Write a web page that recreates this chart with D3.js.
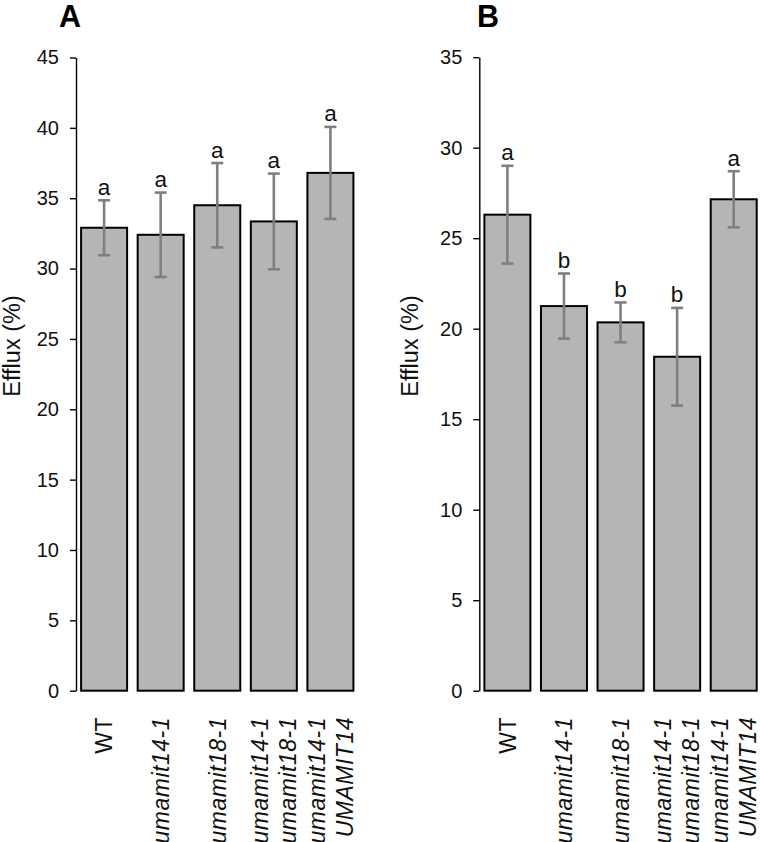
<!DOCTYPE html>
<html>
<head>
<meta charset="utf-8">
<script src="https://cdn.jsdelivr.net/npm/d3@7/dist/d3.min.js"></script>
<style>
  html, body { margin: 0; padding: 0; background: #fff; }
  svg { display: block; font-family: "Liberation Sans", Arial, Helvetica, sans-serif; }
</style>
</head>
<body>
<svg id="chart" width="760" height="842"></svg>
<script>
// ---- Data ----
const categories = ["WT", "umamit14-1", "umamit18-1", "umamit14-1 umamit18-1", "umamit14-1 UMAMIT14"];
const categoryLines = [["WT"], ["umamit14-1"], ["umamit18-1"], ["umamit14-1", "umamit18-1"], ["umamit14-1", "UMAMIT14"]];
const categoryItalic = [false, true, true, true, true];

const meansA = [32.9, 32.4, 34.5, 33.35, 36.8];
const errorsA = [1.95, 3.0, 3.0, 3.4, 3.27];
const lettersA = ["a", "a", "a", "a", "a"];
const ticksA = [0, 5, 10, 15, 20, 25, 30, 35, 40, 45];

const meansB = [26.3, 21.25, 20.35, 18.45, 27.15];
const errorsB = [2.7, 1.8, 1.1, 2.7, 1.55];
const lettersB = ["a", "b", "b", "b", "a"];
const ticksB = [0, 5, 10, 15, 20, 25, 30, 35];

const yLabel = "Efflux (%)";

// ---- Drawing ----
const svg = d3.select("#chart");
const yBottom = 690.7;

function panel(opts) {
  const g = svg.append("g");
  const x = d3.scaleBand().domain(categories)
    .range([opts.axisX, opts.axisX + 282.5])
    .paddingInner(0.187).paddingOuter(0.09);
  const y = d3.scaleLinear().domain([0, opts.max]).range([yBottom, opts.yTop]);

  // axis
  const axis = d3.axisLeft(y).tickValues(opts.ticks).tickSize(6).tickSizeOuter(0).tickPadding(11);
  const ag = g.append("g").attr("transform", `translate(${opts.axisX},0)`).call(axis);
  ag.select(".domain").attr("stroke", "#000").attr("stroke-width", 1.4);
  ag.selectAll(".tick line").attr("stroke", "#000").attr("stroke-width", 1.4);
  ag.selectAll(".tick text").attr("font-size", 20).attr("fill", "#111")
    .attr("font-family", "'Liberation Sans', Arial, sans-serif");

  const data = categories.map((c, i) => ({ c, i, m: opts.means[i], e: opts.errors[i], l: opts.letters[i] }));

  // bars
  g.selectAll("rect.bar").data(data).enter().append("rect")
    .attr("class", "bar")
    .attr("x", d => x(d.c))
    .attr("width", x.bandwidth())
    .attr("y", d => y(d.m))
    .attr("height", d => y(0) - y(d.m))
    .attr("fill", "#b4b5b7")
    .attr("stroke", "#000")
    .attr("stroke-width", 2);

  // error bars
  const cx = d => x(d.c) + x.bandwidth() / 2;
  const eg = g.selectAll("g.err").data(data).enter().append("g")
    .attr("stroke", "#7f7f7f").attr("stroke-width", 2.6);
  eg.append("line").attr("x1", cx).attr("x2", cx)
    .attr("y1", d => y(d.m + d.e)).attr("y2", d => y(d.m - d.e));
  eg.append("line").attr("x1", d => cx(d) - 6).attr("x2", d => cx(d) + 6)
    .attr("y1", d => y(d.m + d.e)).attr("y2", d => y(d.m + d.e));
  eg.append("line").attr("x1", d => cx(d) - 6).attr("x2", d => cx(d) + 6)
    .attr("y1", d => y(d.m - d.e)).attr("y2", d => y(d.m - d.e));

  // significance letters
  g.selectAll("text.sig").data(data).enter().append("text")
    .attr("class", "sig")
    .attr("x", cx)
    .attr("y", d => y(d.m + d.e) - 5.5)
    .attr("text-anchor", "middle")
    .attr("font-size", 22.5)
    .attr("fill", "#111")
    .text(d => d.l);

  // x labels (rotated)
  const lineGap = 28;
  data.forEach(d => {
    const lines = categoryLines[d.i];
    const n = lines.length;
    lines.forEach((t, k) => {
      const off = (k - (n - 1) / 2) * lineGap;
      g.append("text")
        .attr("transform", `translate(${cx(d) + off},717) rotate(-90)`)
        .attr("text-anchor", "end")
        .attr("dy", "0.36em")
        .attr("font-size", 23)
        .attr("letter-spacing", 0.5)
        .attr("font-style", categoryItalic[d.i] ? "italic" : "normal")
        .attr("fill", "#111")
        .text(t);
    });
  });

  // y label
  g.append("text")
    .attr("transform", `translate(${opts.labelX},346) rotate(-90)`)
    .attr("text-anchor", "middle")
    .attr("font-size", 23.5)
    .attr("fill", "#111")
    .text(yLabel);

  // panel letter
  g.append("text")
    .attr("x", opts.letterX).attr("y", 27)
    .attr("font-size", 30.5).attr("font-weight", "bold")
    .attr("fill", "#000")
    .text(opts.panelLetter);
}

panel({ axisX: 76, max: 45, yTop: 57.5, ticks: ticksA, means: meansA, errors: errorsA, letters: lettersA,
        labelX: 20, letterX: 59, panelLetter: "A" });
panel({ axisX: 479.3, max: 35, yTop: 57.2, ticks: ticksB, means: meansB, errors: errorsB, letters: lettersB,
        labelX: 417.5, letterX: 477, panelLetter: "B" });
</script>
</body>
</html>
